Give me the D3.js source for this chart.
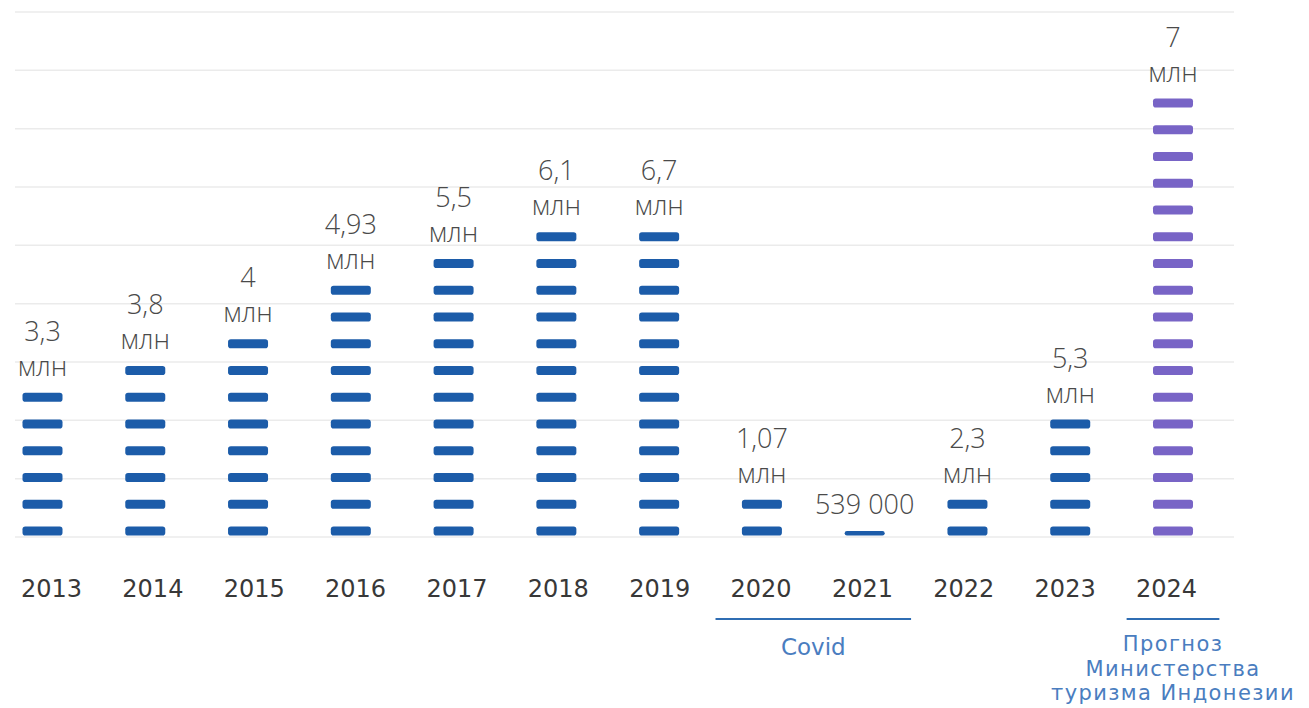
<!DOCTYPE html>
<html>
<head>
<meta charset="utf-8">
<script src="https://cdn.jsdelivr.net/npm/d3@7"></script>
<style>
  html, body { margin: 0; padding: 0; background: #fff; }
  svg { display: block; }
</style>
</head>
<body>
<svg id="chart" width="1309" height="708"></svg>
<script>
// Tourist arrivals per year (millions)
const years = ["2013", "2014", "2015", "2016", "2017", "2018", "2019", "2020", "2021", "2022", "2023", "2024"];
const values = [3.3, 3.8, 4, 4.93, 5.5, 6.1, 6.7, 1.07, 0.539, 2.3, 5.3, 7];
// Number of dash units stacked in each column (a fraction draws a thinner dash)
const dashCounts = [6, 7, 8, 10, 11, 12, 12, 2, 0.5, 2, 5, 17];
const forecastYears = ["2024"];
const unitLabel = "млн";
const brackets = [
  { from: "2020", to: "2021", lines: ["Covid"], size: 23, spacing: 0 },
  { from: "2024", to: "2024", lines: ["Прогноз", "Министерства", "туризма Индонезии"], size: 21, spacing: 1.4 }
];
const gridLevels = d3.range(10);

const W = 1309, H = 708;
const svg = d3.select("#chart");
svg.append("rect").attr("width", W).attr("height", H).attr("fill", "#fff");

const blue = "#1c5ca9", purple = "#7864c6";
const dashW = 40, dashH = 9;

const x = d3.scalePoint().domain(years).range([42.5, 1173]);
const xLabel = d3.scalePoint().domain(years).range([51, 1166]);
const ySlot = d3.scaleLinear().domain([0, 16]).range([531, 103]);
const yGrid = d3.scaleLinear().domain([0, 9]).range([537, 12]);

// horizontal guide lines
svg.append("g").selectAll("line").data(gridLevels).join("line")
  .attr("x1", 15).attr("x2", 1234)
  .attr("y1", d => yGrid(d)).attr("y2", d => yGrid(d))
  .attr("stroke", "#ebebeb").attr("stroke-width", 1.5);

const locale = d3.formatLocale({ decimal: ",", thousands: " ", grouping: [3], currency: ["", ""] });
const fmtMln = locale.format(".3~r");
const fmtInt = locale.format(",d");

const cols = years.map((yr, i) => {
  const n = dashCounts[i];
  const full = Math.floor(n);
  const frac = n - full;
  const dashes = [];
  for (let k = 0; k < full; k++) dashes.push({ k, h: dashH });
  if (frac > 0) dashes.push({ k: full, h: dashH * frac });
  return { yr, value: values[i], dashes, forecast: forecastYears.includes(yr) };
});

const col = svg.append("g").selectAll("g.col").data(cols).join("g").attr("class", "col");

col.selectAll("rect").data(d => d.dashes.map(s => ({ ...s, c: d }))).join("rect")
  .attr("x", d => x(d.c.yr) - dashW / 2)
  .attr("y", d => ySlot(d.k) + dashH / 2 - d.h)
  .attr("width", dashW)
  .attr("height", d => d.h)
  .attr("rx", d => Math.min(2.8, d.h / 2))
  .attr("fill", d => d.c.forecast ? purple : blue);

// value labels above each stack
col.each(function (d) {
  const top = d3.min(d.dashes, s => ySlot(s.k) + dashH / 2 - s.h);
  const lines = d.value < 1 ? [fmtInt(Math.round(d.value * 1e6))] : [fmtMln(d.value), unitLabel];
  const g = d3.select(this);
  lines.forEach((t, j) => {
    g.append("text")
      .attr("x", x(d.yr))
      .attr("y", top - 17 - (lines.length - 1 - j) * 35)
      .attr("text-anchor", "middle")
      .attr("font-family", "'Open Sans', sans-serif")
      .attr("font-weight", 300)
      .attr("font-size", 27)
      .attr("fill", "#4a4a4a")
      .text(t);
  });
});

// year axis
const axis = svg.append("g").attr("transform", "translate(0,597)")
  .call(d3.axisBottom(xLabel).tickSize(0).tickPadding(0));
axis.select(".domain").remove();
axis.selectAll("text")
  .attr("dy", 0)
  .attr("font-family", "DejaVu Sans, sans-serif")
  .attr("font-size", 24)
  .attr("fill", "#383838");

// period brackets under the axis
const step = x.step();
const br = svg.append("g").selectAll("g").data(brackets).join("g");
br.append("line")
  .attr("x1", d => x(d.from) - step / 2 + 5)
  .attr("x2", d => x(d.to) + step / 2 - 5)
  .attr("y1", 619).attr("y2", 619)
  .attr("stroke", "#2f6db3").attr("stroke-width", 2.2);
br.each(function (d) {
  const cx = (x(d.from) + x(d.to)) / 2;
  const g = d3.select(this);
  d.lines.forEach((t, j) => {
    g.append("text")
      .attr("x", cx)
      .attr("y", (d.lines.length > 1 ? 651 : 655) + j * 24.5)
      .attr("text-anchor", "middle")
      .attr("font-family", "DejaVu Sans, sans-serif")
      .attr("font-size", d.size)
      .attr("letter-spacing", d.spacing)
      .attr("fill", "#4a7dbf")
      .text(t);
  });
});
</script>
</body>
</html>
